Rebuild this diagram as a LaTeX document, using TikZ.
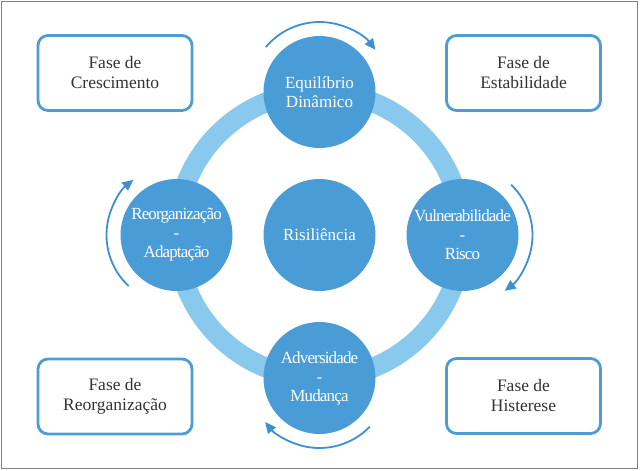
\documentclass[tikz,border=0pt]{standalone}
\usepackage{fontspec}
\setmainfont{Liberation Serif}
\newfontfamily\condfont[LetterSpace=-5]{Liberation Serif}
\usetikzlibrary{arrows.meta}
\definecolor{circblue}{RGB}{74,156,214}
\definecolor{ringblue}{RGB}{138,201,238}
\definecolor{arrblue}{RGB}{62,144,208}
\definecolor{boxblue}{RGB}{78,156,212}
\definecolor{txtgray}{RGB}{51,51,51}
\begin{document}
\begin{tikzpicture}[x=1pt,y=1pt,
  phase/.style={circle, fill=circblue, minimum size=112pt, inner sep=0pt, text=white,
    font=\fontsize{17}{19}\selectfont, align=center},
  condphase/.style={phase, font=\condfont\fontsize{17}{19}\selectfont},
  fasebox/.style={draw=boxblue, line width=2.8pt, rounded corners=10pt, minimum width=154pt,
    minimum height=75pt, text=txtgray, font=\fontsize{17.5}{20}\selectfont, align=center},
  cyc/.style={arrblue, line width=1.8pt, -{Triangle[length=11pt,width=10pt]}}
]
\path[use as bounding box] (0,0) rectangle (643,-471);
\draw[gray, line width=0.8pt] (1.5,-1.5) rectangle (637,-468);
\coordinate (O) at (319.5,-235);
\draw[ringblue, line width=20pt] (O) circle[radius=143];
\node[phase] (top) at (319.5,-92) {Equilíbrio\\Dinâmico};
\node[condphase] (left) at (176.5,-235) {Reorganização\\-\\Adaptação};
\node[condphase] (right) at (462.5,-235) {Vulnerabilidade\\-\\Risco};
\node[condphase] (bottom) at (319.5,-378) {Adversidade\\-\\Mudança};
\node[phase] (center) at (O) {Risiliência};
\draw[cyc] ([shift={(140:70)}]top.center) arc[start angle=140, end angle=37, radius=70];
\draw[cyc] ([shift={(46:70)}]right.center) arc[start angle=46, end angle=-53, radius=70];
\draw[cyc] ([shift={(-44:70)}]bottom.center) arc[start angle=-44, end angle=-141, radius=70];
\draw[cyc] ([shift={(227:70)}]left.center) arc[start angle=227, end angle=128, radius=70];
\node[fasebox] (fc) at (115,-73) {Fase de\\Crescimento};
\node[fasebox] (fe) at (523.5,-73) {Fase de\\Estabilidade};
\node[fasebox] (fr) at (115,-396.5) {Fase de\\Reorganização};
\node[fasebox] (fh) at (523.5,-396) {Fase de\\Histerese};
\end{tikzpicture}
\end{document}
